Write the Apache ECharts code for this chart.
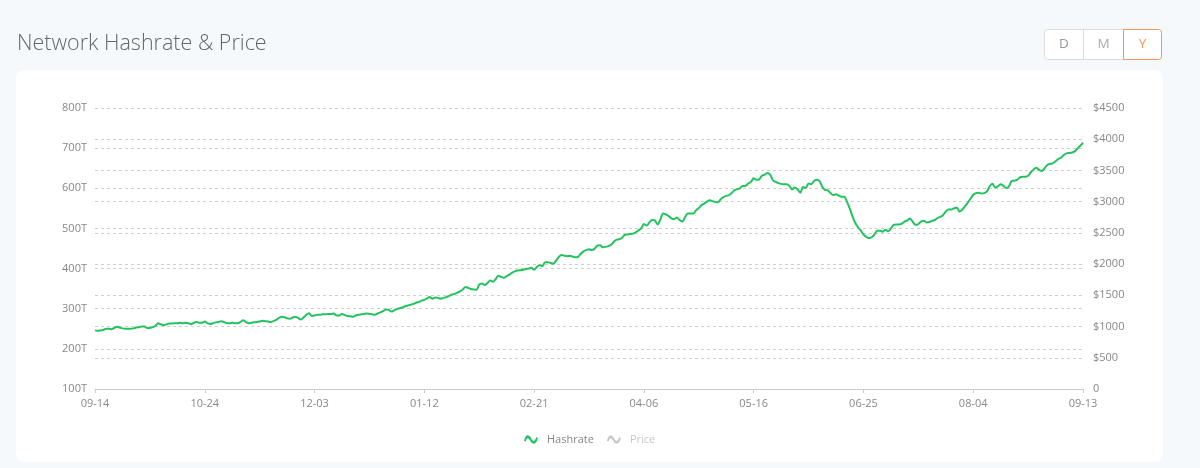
<!DOCTYPE html>
<html>
<head>
<meta charset="utf-8">
<script src="https://cdn.jsdelivr.net/npm/echarts@6/dist/echarts.min.js"></script>
<style>
  html,body{margin:0;padding:0;background:#f6f9fc;}
  #chart{width:1200px;height:468px;}
</style>
</head>
<body>
<div id="chart"></div>
<script>
// ---- data ----
var tickLabels = ['09-14','10-24','12-03','01-12','02-21','04-06','05-16','06-25','08-04','09-13'];
// Hashrate (TH/s) per daily category
var hashrate = [
 246,245,246,247,250,250,249,252,255,253,
 251,250,250,250,251,253,254,256,256,252,
 252,254,257,264,261,259,261,263,263,264,
 264,265,264,265,264,261,265,267,265,265,
 268,264,262,264,266,267,269,267,264,264,
 265,264,264,267,271,267,264,265,266,267,
 268,270,269,268,267,269,272,277,280,279,
 276,275,278,280,277,273,278,285,289,282,
 283,285,285,286,286,287,287,288,283,283,
 287,284,282,281,280,283,285,286,287,288,
 287,286,285,288,291,294,298,297,293,296,
 299,301,303,306,308,310,312,315,317,320,
 322,326,329,325,328,327,325,327,329,332,
 335,337,340,343,348,354,352,349,348,347,
 360,363,359,364,370,367,374,382,379,377,
 381,385,390,393,395,396,397,399,400,402,
 397,404,408,406,416,416,414,412,420,429,
 434,432,431,432,430,428,429,437,443,446,
 448,446,449,457,458,453,454,456,459,466,
 472,473,476,484,485,486,487,490,495,500,
 511,507,515,521,520,510,522,537,535,531,
 525,523,527,521,517,528,537,537,537,545,
 551,558,562,567,570,568,566,565,573,578,
 581,583,588,595,598,600,606,606,612,616,
 625,621,622,631,634,638,634,620,616,613,
 611,610,610,606,597,602,597,589,603,601,
 612,610,618,621,618,604,596,595,588,583,
 585,582,579,579,566,550,530,514,503,495,
 485,479,476,478,485,494,494,492,497,493,
 500,509,510,510,512,517,520,525,516,509,
 511,517,519,515,516,519,521,526,529,533,
 542,547,547,550,552,542,547,555,564,574,
 584,588,589,587,588,592,605,611,602,605,
 610,606,601,605,618,619,621,627,629,629,
 631,640,647,651,646,643,650,658,661,662,
 667,673,676,683,687,688,689,692,699,706,
 714
];
// Price series is switched off in the legend in the reference, so no values are drawn
var price = [];
var hashrateAxisTicks = [100, 800, 100];   // min, max, interval
var priceAxisTicks = [0, 4500, 500];

// daily category dates 2020-09-14 .. 2021-09-13 (four days absent between 02-21 and 04-06)
var skipDays = ['03-10','03-11','03-12','03-13'];
var categories = [];
(function(){
  var d = new Date(Date.UTC(2020, 8, 14));
  var end = Date.UTC(2021, 8, 13);
  while (d.getTime() <= end) {
    var s = String(d.getUTCMonth()+1).padStart(2,'0') + '-' + String(d.getUTCDate()).padStart(2,'0');
    if (!(d.getUTCFullYear() === 2021 && skipDays.indexOf(s) >= 0)) categories.push(s);
    d = new Date(d.getTime() + 86400000);
  }
})();

var font = "'Open Sans', 'Noto Sans', sans-serif";
var waveIcon = 'path://M0,9 C2,2 5,1 8,6 C10,10 12,11 14,5 L16,6 C14,14 10,14 7,9 C5,5 3,5 2,10 Z';

var chart = echarts.init(document.getElementById('chart'), null, {renderer:'canvas'});
chart.setOption({
  backgroundColor: '#f6f9fc',
  animation: false,
  textStyle: {fontFamily: font},
  title: {
    text: 'Network Hashrate & Price',
    left: 12, top: 28,
    textStyle: {fontFamily: font, fontSize: 21.5, fontWeight: 300, color: '#666'}
  },
  graphic: [
    {type:'rect', z:-10, silent:true, shape:{x:16,y:70,width:1147,height:392,r:8}, style:{fill:'#ffffff'}},
    {type:'rect', z:5, silent:true, shape:{x:1044.5,y:29.5,width:79,height:30,r:[3,0,0,3]}, style:{fill:'#fff',stroke:'#dcdcdc',lineWidth:1}},
    {type:'line', z:6, silent:true, shape:{x1:1083.5,y1:29.5,x2:1083.5,y2:59.5}, style:{stroke:'#dcdcdc',lineWidth:1}},
    {type:'rect', z:6, silent:true, shape:{x:1123.5,y:29.5,width:38,height:30,r:[0,3,3,0]}, style:{fill:'#fff',stroke:'#f7955a',lineWidth:1}},
    {type:'text', z:7, silent:true, x:1064, y:44.5, style:{text:'D', fill:'#999', font:"13.5px 'Open Sans', sans-serif", align:'center', verticalAlign:'middle'}},
    {type:'text', z:7, silent:true, x:1103.5, y:44.5, style:{text:'M', fill:'#aaa', font:"13.5px 'Open Sans', sans-serif", align:'center', verticalAlign:'middle'}},
    {type:'text', z:7, silent:true, x:1142.5, y:44.5, style:{text:'Y', fill:'#f7955a', font:"13.5px 'Open Sans', sans-serif", align:'center', verticalAlign:'middle'}}
  ],
  legend: {
    bottom: 18, left: 519,
    itemWidth: 14, itemHeight: 9, itemGap: 13,
    icon: waveIcon,
    inactiveColor: '#c8c8c8',
    textStyle: {fontFamily: font, fontSize: 11, color: '#888', padding: [0, 0, 0, 4]},
    data: ['Hashrate', 'Price'],
    selected: {'Hashrate': true, 'Price': false}
  },
  grid: {left: 95, right: 117, top: 108, bottom: 79, containLabel: false},
  xAxis: {
    type: 'category',
    boundaryGap: false,
    data: categories,
    axisLine: {lineStyle: {color: '#cccccc'}},
    axisTick: {show: true, length: 4, lineStyle: {color: '#cccccc'}, interval: function(i, v){ return tickLabels.indexOf(v) >= 0 && (i % 40 === 0); }},
    axisLabel: {
      color: '#888', fontSize: 11, fontFamily: font, margin: 9,
      interval: function(i, v){ return i % 40 === 0 && tickLabels.indexOf(v) >= 0; }
    },
    splitLine: {show: false}
  },
  yAxis: [
    {
      type: 'value',
      min: hashrateAxisTicks[0], max: hashrateAxisTicks[1], interval: hashrateAxisTicks[2],
      axisLine: {show: false}, axisTick: {show: false},
      axisLabel: {color: '#888', fontSize: 11, fontFamily: font, margin: 8, formatter: function(v){ return v + 'T'; }},
      splitLine: {show: true, lineStyle: {color: '#cfcfcf', type: [3, 3], width: 1}}
    },
    {
      type: 'value',
      min: priceAxisTicks[0], max: priceAxisTicks[1], interval: priceAxisTicks[2],
      axisLine: {show: false}, axisTick: {show: false},
      axisLabel: {color: '#888', fontSize: 11, fontFamily: font, margin: 10, formatter: function(v){ return v === 0 ? '0' : '$' + v; }},
      splitLine: {show: true, lineStyle: {color: '#cfcfcf', type: [3, 3], width: 1}}
    }
  ],
  series: [
    {
      name: 'Hashrate', type: 'line', yAxisIndex: 0,
      data: hashrate, showSymbol: false, symbol: 'none', smooth: 0.3,
      itemStyle: {color: '#22c35e'},
      lineStyle: {color: '#22c35e', width: 2}
    },
    {
      name: 'Price', type: 'line', yAxisIndex: 1,
      data: price, showSymbol: false, symbol: 'none',
      itemStyle: {color: '#c8c8c8'},
      lineStyle: {color: '#c8c8c8', width: 2}
    }
  ]
});
</script>
</body>
</html>
